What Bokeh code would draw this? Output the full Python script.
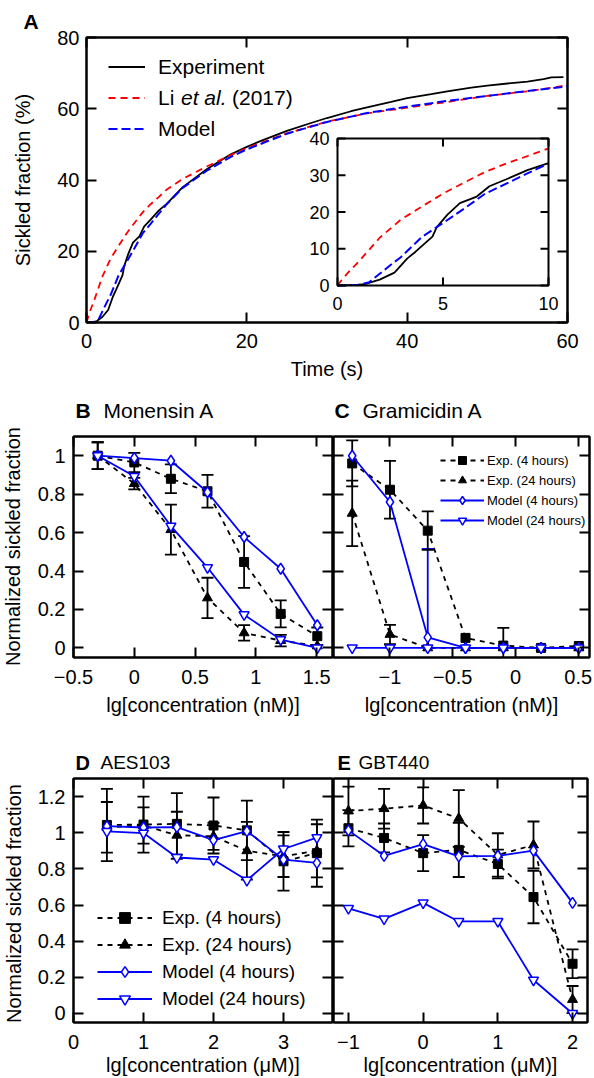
import math
from bokeh.plotting import figure
from bokeh.layouts import column, row
from bokeh.models import (Range1d, LinearAxis, FixedTicker, Legend, LegendItem,
                          Whisker, TeeHead, ColumnDataSource, Label, Title)
from bokeh.core.properties import value
from bokeh.embed import file_html
from bokeh.resources import INLINE

FONT = "Liberation Sans"
BLUE = "#0000ff"
RED = "#ff0000"

# ---------------- Panel A data ----------------
exp_t = [0, 0.5, 1.0, 1.3, 2.0, 2.7, 3.3, 3.7, 4.5, 4.7, 5.2, 5.8, 6.6, 7.2, 8.0, 9.0, 10.0,
         12.0, 15.0, 18.0, 20.0, 22.0, 25.0, 28.0, 30.0, 33.0, 35.0, 38.0, 40.0, 43.0, 45.0,
         48.0, 50.0, 53.0, 55.0, 57.0, 58.0, 59.5]
exp_y = [0, 0.1, 0.2, 0.4, 1.6, 3.5, 7.3, 9.2, 13.3, 15.8, 19.2, 22.4, 24.2, 27.0, 28.9, 31.4, 33.3,
         38.0, 43.0, 47.2, 49.3, 51.2, 53.8, 56.0, 57.4, 59.3, 60.4, 61.9, 63.0, 64.1, 64.9,
         65.9, 66.5, 67.2, 67.6, 68.3, 68.8, 68.9]
li_t = [0, 0.2, 0.5, 1, 2, 3, 4, 5, 6, 7, 8, 9, 10, 12, 15, 18, 20, 25, 30, 35, 40, 45, 50, 55, 60]
li_y = [0, 1.5, 3.5, 6.5, 13.0, 17.9, 21.5, 25.0, 28.0, 30.9, 33.2, 35.2, 37.3, 40.3, 43.8, 47.0,
        49.0, 53.1, 56.4, 58.7, 60.3, 61.9, 63.6, 64.9, 66.6]
mod_t = [0, 1, 1.5, 2, 2.5, 3, 4, 5, 6, 7, 8, 9, 10, 12, 15, 18, 20, 25, 30, 35, 40, 45, 50, 55, 60]
mod_y = [0, 0.2, 0.9, 3.2, 5.5, 7.7, 13.2, 17.0, 20.9, 25.0, 27.7, 30.5, 33.2, 37.8, 42.6, 46.5,
         48.6, 53.0, 56.3, 58.8, 60.6, 62.2, 63.6, 65.0, 66.3]
a_xticks = [0, 20, 40, 60]
a_yticks = [0, 20, 40, 60, 80]
in_xticks = [0, 5, 10]
in_yticks = [0, 10, 20, 30, 40]
in_xr = (0, 10)
in_yr = (0, 40)

# ---------------- Panel B: Monensin A ----------------
b_x = [-0.301, 0.0, 0.301, 0.602, 0.903, 1.204, 1.505]
b_exp4 = [1.0, 0.965, 0.88, 0.815, 0.447, 0.177, 0.061]
b_exp4_err = [0.07, 0.05, 0.075, 0.085, 0.135, 0.07, 0.045]
b_exp24 = [1.0, 0.855, 0.615, 0.26, 0.078, 0.038, 0.01]
b_exp24_err = [0.07, 0.03, 0.13, 0.105, 0.04, 0.03, 0.0]
b_mod4 = [1.0, 0.988, 0.974, 0.81, 0.577, 0.412, 0.118]
b_mod24 = [1.0, 0.893, 0.634, 0.418, 0.173, 0.043, 0.0]

# ---------------- Panel C: Gramicidin A ----------------
c_x = [-1.301, -1.0, -0.699, -0.398, -0.097, 0.204, 0.505]
c_exp4 = [0.96, 0.823, 0.61, 0.052, 0.012, 0.0, 0.01]
c_exp4_err = [0.12, 0.15, 0.1, 0.0, 0.092, 0.0, 0.0]
c_exp24 = [0.70, 0.07, 0.0, 0.0, 0.0, 0.0, 0.0]
c_exp24_err = [0.17, 0.05, 0.0, 0.0, 0.0, 0.0, 0.0]
c_mod4 = [1.0, 0.759, 0.055, 0.0, 0.0, 0.0, 0.0]
c_mod24 = [0.0, 0.0, 0.0, 0.0, 0.0, 0.0, 0.0]
c_mod24_up = [0.0, 0.0, 0.515, 0.0, 0.0, 0.0, 0.0]

# ---------------- Panel D: AES103 ----------------
d_x = [0.477, 1.0, 1.477, 2.0, 2.477, 3.0, 3.477]
d_exp4 = [1.043, 1.045, 1.049, 1.04, 1.013, 0.842, 0.887]
d_exp4_err = [0.2, 0.155, 0.17, 0.155, 0.165, 0.162, 0.186]
d_exp24 = [1.03, 1.04, 0.986, 0.98, 0.9, 0.87, 0.9]
d_exp24_err = [0.14, 0.1, 0.13, 0.075, 0.16, 0.115, 0.147]
d_mod4 = [1.036, 1.029, 1.031, 0.959, 1.009, 0.851, 0.833]
d_mod24 = [1.007, 0.998, 0.863, 0.851, 0.737, 0.91, 0.973]

# ---------------- Panel E: GBT440 ----------------
e_x = [-1.0, -0.523, 0.0, 0.477, 1.0, 1.477, 2.0]
e_exp4 = [1.025, 0.971, 0.887, 0.905, 0.827, 0.644, 0.275]
e_exp4_err = [0.1, 0.08, 0.1, 0.15, 0.08, 0.145, 0.08]
e_exp24 = [1.12, 1.133, 1.151, 1.079, 0.877, 0.932, 0.077]
e_exp24_err = [0.135, 0.11, 0.1, 0.157, 0.12, 0.13, 0.075]
e_mod4 = [1.013, 0.872, 0.937, 0.869, 0.872, 0.901, 0.612]
e_mod24 = [0.581, 0.523, 0.612, 0.509, 0.509, 0.185, 0.0]

frac_ticks = [0, 0.2, 0.4, 0.6, 0.8, 1]
frac_labels = ["0", "0.2", "0.4", "0.6", "0.8", "1"]
frac_ticks2 = [0, 0.2, 0.4, 0.6, 0.8, 1, 1.2]
frac_labels2 = ["0", "0.2", "0.4", "0.6", "0.8", "1", "1.2"]
b_xticks = [-0.5, 0, 0.5, 1, 1.5]
b_xlabels = ["\u22120.5", "0", "0.5", "1", "1.5"]
c_xticks = [-1, -0.5, 0, 0.5]
c_xlabels = ["\u22121", "\u22120.5", "0", "0.5"]
d_xticks = [0, 1, 2, 3]
d_xlabels = ["0", "1", "2", "3"]
e_xticks = [-1, 0, 1, 2]
e_xlabels = ["\u22121", "0", "1", "2"]
leg_labels = ["Exp. (4 hours)", "Exp. (24 hours)", "Model (4 hours)", "Model (24 hours)"]
frac_title = "Normalized sickled fraction"


def no_align(p):
    if "frame_align" in p.properties():
        p.frame_align = False


def base_fig(w, h, xr, yr, bl, br, bt, bb):
    p = figure(width=w, height=h, x_range=Range1d(*xr), y_range=Range1d(*yr),
               x_axis_location=None, y_axis_location=None,
               output_backend="svg", toolbar_location=None,
               min_border_left=bl, min_border_right=br,
               min_border_top=bt, min_border_bottom=bb)
    no_align(p)
    p.grid.visible = False
    p.outline_line_color = "black"
    p.outline_line_width = 2
    p.outline_line_alpha = 1.0
    p.background_fill_color = "white"
    p.border_fill_color = "white"
    return p


def text_strip(w, h, items):
    """Blank strip holding titles / rotated labels. items: (x, y, text, size, style, angle, align)"""
    p = figure(width=w, height=h, x_range=Range1d(0, w), y_range=Range1d(h, 0),
               x_axis_location=None, y_axis_location=None,
               output_backend="svg", toolbar_location=None,
               min_border_left=0, min_border_right=0, min_border_top=0, min_border_bottom=0)
    no_align(p)
    p.grid.visible = False
    p.outline_line_color = None
    p.background_fill_color = "white"
    p.border_fill_color = "white"
    for (x, y, t, size, style, angle, align) in items:
        p.text(x=[x], y=[y], text=[t], text_font=value(FONT), text_font_size=size,
               text_font_style=style, angle=angle, text_align=align,
               text_baseline="middle", text_color="black")
    return p


def add_axis(p, side, ticks, labels=None, size="20px", standoff=7, title=None,
             title_standoff=5, tick_in=10):
    ax = LinearAxis(ticker=FixedTicker(ticks=ticks))
    ax.major_tick_in = tick_in
    ax.major_tick_out = 0
    ax.minor_tick_in = 0
    ax.minor_tick_out = 0
    ax.minor_tick_line_color = None
    ax.major_tick_line_width = 2
    ax.major_tick_line_color = "black"
    ax.axis_line_width = 2
    ax.axis_line_color = "black"
    if labels is None:
        ax.major_label_overrides = {t: "" for t in ticks}
        ax.major_label_text_font_size = "0px"
        ax.major_label_standoff = 0
    else:
        ax.major_label_overrides = dict(zip(ticks, labels))
        ax.major_label_text_font = FONT
        ax.major_label_text_font_size = size
        ax.major_label_text_color = "black"
        ax.major_label_standoff = standoff
    if title:
        ax.axis_label = title
        ax.axis_label_text_font = FONT
        ax.axis_label_text_font_size = size
        ax.axis_label_text_font_style = "normal"
        ax.axis_label_text_color = "black"
        ax.axis_label_standoff = title_standoff
    p.add_layout(ax, side)
    return ax


def add_err(p, x, v, err, color="black", lower_head=True):
    xs = [xi for xi, e in zip(x, err) if e > 0]
    up = [vi + e for vi, e in zip(v, err) if e > 0]
    lo = [(vi - e) if lower_head else vi for vi, e in zip(v, err) if e > 0]
    src = ColumnDataSource(dict(base=xs, upper=up, lower=lo))
    w = Whisker(source=src, base="base", upper="upper", lower="lower", dimension="height",
                line_color=color, line_width=1.8,
                upper_head=TeeHead(size=12, line_color=color, line_width=1.8),
                lower_head=TeeHead(size=12, line_color=color, line_width=1.8) if lower_head else None)
    p.add_layout(w)


def dose_series(p, x, e4, e4err, e24, e24err, m4, m24):
    add_err(p, x, e4, e4err)
    add_err(p, x, e24, e24err)
    r1l = p.line(x, e4, line_color="black", line_dash="5 5", line_width=1.8)
    r1m = p.scatter(x, e4, marker="square", size=9, line_color="black", fill_color="black")
    r2l = p.line(x, e24, line_color="black", line_dash="5 5", line_width=1.8)
    r2m = p.scatter(x, e24, marker="triangle", size=10, line_color="black", fill_color="black")
    r3l = p.line(x, m4, line_color=BLUE, line_width=1.8)
    r3m = p.scatter(x, m4, marker="diamond", size=11, line_color=BLUE, fill_color="white",
                    line_width=1.5)
    r4l = p.line(x, m24, line_color=BLUE, line_width=1.8)
    r4m = p.scatter(x, m24, marker="inverted_triangle", size=10, line_color=BLUE,
                    fill_color="white", line_width=1.5)
    return [[r1l, r1m], [r2l, r2m], [r3l, r3m], [r4l, r4m]]


def make_legend(rends, loc, gw, rowh, standoff, size):
    items = [LegendItem(label=lab, renderers=r) for lab, r in zip(leg_labels, rends)]
    return Legend(items=items, location=loc, glyph_width=gw, glyph_height=rowh,
                  label_height=rowh, label_standoff=standoff, spacing=0, padding=0, margin=0,
                  label_text_font=FONT, label_text_font_size=size, label_text_color="black",
                  border_line_color=None, background_fill_alpha=0)


# ---------------- Panel A ----------------
A_FW, A_FH = 481, 285
pA = base_fig(594, 392, (0, 60), (0, 80), 86, 27, 37, 70)
add_axis(pA, "below", a_xticks, [str(t) for t in a_xticks], standoff=11, title="Time (s)",
         title_standoff=7)
add_axis(pA, "above", a_xticks)
add_axis(pA, "left", a_yticks, [str(t) for t in a_yticks], standoff=7,
         title="Sickled fraction (%)", title_standoff=20)
add_axis(pA, "right", a_yticks)
pA.add_layout(Title(text="A", align="left", offset=-63, standoff=9, text_font=FONT,
                    text_font_size="21px", text_font_style="bold", text_color="black"), "above")
rE = pA.line(exp_t, exp_y, line_color="black", line_width=1.8)
rL = pA.line(li_t, li_y, line_color=RED, line_dash="7 5", line_width=1.8)
rM = pA.line(mod_t, mod_y, line_color=BLUE, line_dash="9 4", line_width=2)
legA = Legend(items=[LegendItem(label="Experiment", renderers=[rE]),
                     LegendItem(label="Li", renderers=[rL]),
                     LegendItem(label="Model", renderers=[rM])],
              location=(22, 178), glyph_width=37, glyph_height=31, label_height=31,
              label_standoff=13, spacing=0, padding=0, margin=0,
              label_text_font=FONT, label_text_font_size="21px", label_text_color="black",
              border_line_color=None, background_fill_alpha=0)
pA.add_layout(legA)


def a_pos(dx, dy):
    return dx * 60 / A_FW, dy * 80 / A_FH


for dx, txt, style in [(94.5, "et al.", "italic"), (145.5, "(2017)", "normal")]:
    x, y = a_pos(dx, A_FH - 60)
    pA.add_layout(Label(x=x, y=y, text=txt, text_font=FONT, text_font_size="21px",
                        text_font_style=style, text_baseline="middle", text_color="black"))

# inset (drawn inside panel A through a sub-coordinate mapping)
ix0, iy0 = a_pos(337 - 86, 322 - 285)
ix1, iy1 = a_pos(548 - 86, 322 - 138)
sub = pA.subplot(x_source=Range1d(*in_xr), y_source=Range1d(*in_yr),
                 x_target=Range1d(ix0, ix1), y_target=Range1d(iy0, iy1))
IN_W, IN_H = 211, 147
px_x = (in_xr[1] - in_xr[0]) / IN_W
px_y = (in_yr[1] - in_yr[0]) / IN_H
sub.quad(left=[in_xr[0]], right=[in_xr[1]], bottom=[in_yr[0]], top=[in_yr[1]],
         fill_color="white", line_color=None)


def clip10(ts, ys):
    pairs = [(t, y) for t, y in zip(ts, ys) if t <= in_xr[1]]
    return [p[0] for p in pairs], [p[1] for p in pairs]


sub.line(*clip10(exp_t, exp_y), line_color="black", line_width=1.8)
sub.line(*clip10(li_t, li_y), line_color=RED, line_dash="7 5", line_width=1.8)
sub.line(*clip10(mod_t, mod_y), line_color=BLUE, line_dash="9 4", line_width=2)
tl = 8
nx, ny = len(in_xticks), len(in_yticks)
sub.segment(x0=in_xticks, y0=[in_yr[0]] * nx, x1=in_xticks, y1=[in_yr[0] + tl * px_y] * nx,
            line_color="black", line_width=2)
sub.segment(x0=in_xticks, y0=[in_yr[1]] * nx, x1=in_xticks, y1=[in_yr[1] - tl * px_y] * nx,
            line_color="black", line_width=2)
sub.segment(x0=[in_xr[0]] * ny, y0=in_yticks, x1=[in_xr[0] + tl * px_x] * ny, y1=in_yticks,
            line_color="black", line_width=2)
sub.segment(x0=[in_xr[1]] * ny, y0=in_yticks, x1=[in_xr[1] - tl * px_x] * ny, y1=in_yticks,
            line_color="black", line_width=2)
sub.quad(left=[in_xr[0]], right=[in_xr[1]], bottom=[in_yr[0]], top=[in_yr[1]],
         fill_color=None, line_color="black", line_width=2)
sub.text(x=in_xticks, y=[in_yr[0] - 18 * px_y] * nx, text=[str(t) for t in in_xticks],
         text_font=value(FONT), text_font_size="18px", text_align="center",
         text_baseline="middle", text_color="black")
sub.text(x=[in_xr[0] - 8 * px_x] * ny, y=in_yticks, text=[str(t) for t in in_yticks],
         text_font=value(FONT), text_font_size="18px", text_align="right",
         text_baseline="middle", text_color="black")

# ---------------- Panel B ----------------
pB = base_fig(309, 299, (-0.5, 1.63), (-0.05, 1.1), 49, 1, 10, 68)
add_axis(pB, "below", b_xticks, b_xlabels, standoff=12, title="lg[concentration (nM)]",
         title_standoff=7)
add_axis(pB, "above", b_xticks)
add_axis(pB, "left", frac_ticks, frac_labels, standoff=8)
add_axis(pB, "right", frac_ticks)
dose_series(pB, b_x, b_exp4, b_exp4_err, b_exp24, b_exp24_err, b_mod4, b_mod24)

# ---------------- Panel C ----------------
pC = base_fig(261, 299, (-1.45, 0.59), (-0.05, 1.1), 0, 5, 10, 68)
add_axis(pC, "below", c_xticks, c_xlabels, standoff=12, title="lg[concentration (nM)]",
         title_standoff=7)
add_axis(pC, "above", c_xticks)
add_axis(pC, "left", frac_ticks)
add_axis(pC, "right", frac_ticks)
add_err(pC, c_x, c_mod24, c_mod24_up, color=BLUE, lower_head=False)
rendsC = dose_series(pC, c_x, c_exp4, c_exp4_err, c_exp24, c_exp24_err, c_mod4, c_mod24)
pC.add_layout(make_legend(rendsC, (107, 127), 44, 20, 3, "13px"))

# ---------------- Panel D ----------------
pD = base_fig(309, 306, (0, 3.7), (-0.05, 1.3), 49, 1, 6, 52)
add_axis(pD, "below", d_xticks, d_xlabels, standoff=12, title="lg[concentration (\u03bcM)]",
         title_standoff=2)
add_axis(pD, "above", d_xticks)
add_axis(pD, "left", frac_ticks2, frac_labels2, standoff=8)
add_axis(pD, "right", frac_ticks2)
rendsD = dose_series(pD, d_x, d_exp4, d_exp4_err, d_exp24, d_exp24_err, d_mod4, d_mod24)
pD.add_layout(make_legend(rendsD, (24, 10), 55, 27, 10, "19px"))

# ---------------- Panel E ----------------
pE = base_fig(261, 306, (-1.2, 2.2), (-0.05, 1.3), 0, 7, 6, 52)
add_axis(pE, "below", e_xticks, e_xlabels, standoff=12, title="lg[concentration (\u03bcM)]",
         title_standoff=2)
add_axis(pE, "above", e_xticks)
add_axis(pE, "left", frac_ticks2)
add_axis(pE, "right", frac_ticks2)
dose_series(pE, e_x, e_exp4, e_exp4_err, e_exp24, e_exp24_err, e_mod4, e_mod24)

# ---------------- titles and side labels ----------------
stripBC = text_strip(594, 34, [(75, 18, "B", "21px", "bold", 0, "left"),
                               (103, 18, "Monensin A", "21px", "normal", 0, "left"),
                               (334, 18, "C", "21px", "bold", 0, "left"),
                               (362, 18, "Gramicidin A", "21px", "normal", 0, "left")])
stripDE = text_strip(594, 47, [(75, 37, "D", "20px", "bold", 0, "left"),
                               (100, 37, "AES103", "19px", "normal", 0, "left"),
                               (337, 37, "E", "20px", "bold", 0, "left"),
                               (358, 37, "GBT440", "19px", "normal", 0, "left")])
ylabB = text_strip(24, 299, [(12, 120, frac_title, "20px", "normal", math.pi / 2, "center")])
ylabD = text_strip(24, 306, [(13, 131, frac_title, "20px", "normal", math.pi / 2, "center")])

layout = column(pA, stripBC, row(ylabB, pB, pC), stripDE, row(ylabD, pD, pE), spacing=0)

open("out.html", "w").write(file_html(layout, INLINE))
